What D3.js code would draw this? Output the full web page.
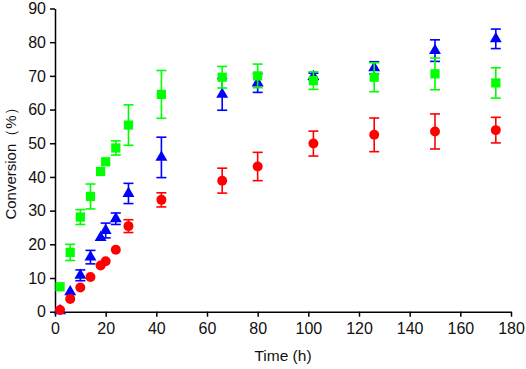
<!DOCTYPE html>
<html>
<head>
<meta charset="utf-8">
<script src="https://cdn.jsdelivr.net/npm/d3@7"></script>
<style>
  body { margin: 0; background: #fff; }
  svg { display: block; font-family: Arial, "Liberation Sans", sans-serif; }
</style>
</head>
<body>
<svg id="chart" width="526" height="369"></svg>
<script>
const TIMES = [2, 6, 10, 14, 18, 20, 24, 29, 42, 66, 80, 102, 126, 150, 174];

const RED_VALUES = [0.5, 3.8, 7.2, 10.3, 13.7, 15.0, 18.4, 25.4, 33.2, 38.9, 43.1, 49.9, 52.5, 53.5, 53.9];
const RED_ERRORS = [0, 0, 0, 0, 0, 0, 0, 1.9, 2.1, 3.7, 4.2, 3.7, 5.0, 5.2, 3.8];

const GREEN_VALUES = [7.4, 17.6, 28.1, 34.2, 41.6, 44.5, 48.6, 55.4, 64.5, 69.6, 70.0, 68.6, 69.6, 70.6, 67.9];
const GREEN_ERRORS = [0, 2.4, 2.2, 3.7, 0, 0, 2.1, 6.0, 7.1, 3.2, 3.5, 2.6, 4.3, 4.7, 4.5];

const BLUE_VALUES = [0.3, 5.9, 10.8, 16.2, 22.0, 24.1, 27.6, 35.1, 45.8, 64.5, 67.9, 69.8, 72.4, 77.5, 81.0];
const BLUE_ERRORS = [0, 0, 1.6, 2.0, 0, 2.2, 1.7, 3.0, 6.0, 4.7, 2.8, 1.0, 1.8, 3.2, 2.9];

const X_TICKS = [0, 20, 40, 60, 80, 100, 120, 140, 160, 180];
const Y_TICKS = [0, 10, 20, 30, 40, 50, 60, 70, 80, 90];

const svg = d3.select("#chart");

const x = d3.scaleLinear().domain([0, 180]).range([55, 511]);
const y = d3.scaleLinear().domain([0, 90]).range([311.7, 8.5]);

// axes
const xAxis = svg.append("g")
    .attr("transform", `translate(0,${y(0)})`)
    .call(d3.axisBottom(x).tickValues(X_TICKS).tickSize(5).tickPadding(6).tickSizeOuter(0));
const yAxis = svg.append("g")
    .attr("transform", `translate(${x(0)},0)`)
    .call(d3.axisLeft(y).tickValues(Y_TICKS).tickSize(5).tickPadding(4).tickSizeOuter(0));

[xAxis, yAxis].forEach(a => {
    a.selectAll("path, line").attr("stroke", "#000").attr("stroke-width", 1.5);
    a.selectAll("text").attr("font-size", 16).attr("fill", "#111");
});

svg.append("text")
    .attr("x", 283).attr("y", 361)
    .attr("text-anchor", "middle")
    .attr("font-size", 15.5)
    .attr("fill", "#111")
    .text("Time (h)");

svg.append("text")
    .attr("transform", `translate(16,160) rotate(-90)`)
    .attr("text-anchor", "middle")
    .attr("font-size", 15)
    .attr("fill", "#111")
    .text("Conversion（%）");

function drawSeries(times, values, errors, color, symbol, size) {
    const pts = times.map((t, i) => ({t, v: values[i], e: errors[i]}));
    const g = svg.append("g");
    const bars = g.selectAll("g.err").data(pts.filter(d => d.e > 0)).join("g")
        .attr("stroke", color).attr("stroke-width", 1.6).attr("fill", "none");
    bars.append("line")
        .attr("x1", d => x(d.t)).attr("x2", d => x(d.t))
        .attr("y1", d => y(d.v - d.e)).attr("y2", d => y(d.v + d.e));
    bars.append("line")
        .attr("x1", d => x(d.t) - 5).attr("x2", d => x(d.t) + 5)
        .attr("y1", d => y(d.v + d.e)).attr("y2", d => y(d.v + d.e));
    bars.append("line")
        .attr("x1", d => x(d.t) - 5).attr("x2", d => x(d.t) + 5)
        .attr("y1", d => y(d.v - d.e)).attr("y2", d => y(d.v - d.e));
    g.selectAll("path.mark").data(pts).join("path")
        .attr("class", "mark")
        .attr("d", d3.symbol().type(symbol).size(size))
        .attr("transform", d => `translate(${x(d.t)},${y(d.v)})`)
        .attr("fill", color);
}

drawSeries(TIMES, BLUE_VALUES, BLUE_ERRORS, "#0000ff", d3.symbolTriangle, 62);
drawSeries(TIMES, RED_VALUES, RED_ERRORS, "#ff0000", d3.symbolCircle, 78);
drawSeries(TIMES, GREEN_VALUES, GREEN_ERRORS, "#00ff00", d3.symbolSquare, 85);
</script>
</body>
</html>
